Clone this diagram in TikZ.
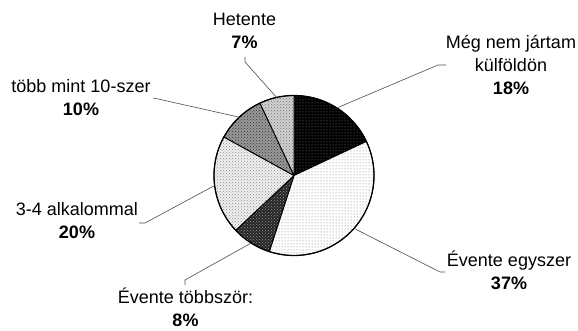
\documentclass[tikz,border=0pt]{standalone}
\usepackage{fontspec}
\setmainfont{Liberation Sans}
\usetikzlibrary{patterns}

\tikzset{
	slice/.style={draw=black, line width=0.9pt, line join=round},
	mnfill/.style={preaction={fill=black}, pattern=dots, pattern color=black!45},
	eefill/.style={preaction={fill=white}, pattern=dots, pattern color=black!55},
	etfill/.style={preaction={fill=black!85}, pattern=crosshatch dots, pattern color=black!40},
	akfill/.style={preaction={fill=black!6}, pattern=crosshatch dots, pattern color=black!45},
	tmfill/.style={preaction={fill=black!40}, pattern=crosshatch dots, pattern color=black!80},
	hefill/.style={preaction={fill=black!18}, pattern=crosshatch dots, pattern color=black!55},
	leader/.style={draw=black!70, line width=0.6pt},
	lbl/.style={align=center, anchor=base, inner sep=0pt, font=\fontsize{18}{23}\selectfont}
}

\begin{document}
\begin{tikzpicture}[x=1pt, y=1pt]
			%%%%% START %%%%%
			
			\useasboundingbox (0, 0) rectangle (578, 331);
			
			\coordinate (c) at (294, 155.5);
			
			\path[slice, mnfill] (c) -- ++(90:80) arc (90:25.2:80) -- cycle;
			\path[slice, eefill] (c) -- ++(25.2:80) arc (25.2:-108:80) -- cycle;
			\path[slice, etfill] (c) -- ++(-108:80) arc (-108:-136.8:80) -- cycle;
			\path[slice, akfill] (c) -- ++(-136.8:80) arc (-136.8:-208.8:80) -- cycle;
			\path[slice, tmfill] (c) -- ++(151.2:80) arc (151.2:115.2:80) -- cycle;
			\path[slice, hefill] (c) -- ++(115.2:80) arc (115.2:90:80) -- cycle;
			\draw[line width=1.2pt] (c) circle (80);
			
			\path (c) ++(57.6:80) coordinate (mnpt);
			\path (c) ++(-41.4:80) coordinate (eept);
			\path (c) ++(237.6:80) coordinate (etpt);
			\path (c) ++(187.2:80) coordinate (akpt);
			\path (c) ++(133.2:80) coordinate (tmpt);
			\path (c) ++(102.6:80) coordinate (hept);
			
			\node[lbl] (mnlbl) at (511, 236) {Még nem jártam\\külföldön\\\textbf{18\%}};
			\node[lbl] (eelbl) at (509, 41) {Évente egyszer\\\textbf{37\%}};
			\node[lbl] (etlbl) at (185.5, 4.5) {Évente többször:\\\textbf{8\%}};
			\node[lbl] (aklbl) at (77, 92) {3-4 alkalommal\\\textbf{20\%}};
			\node[lbl] (tmlbl) at (81, 215) {több mint 10-szer\\\textbf{10\%}};
			\node[lbl] (helbl) at (244.5, 282) {Hetente\\\textbf{7\%}};
			
			\coordinate (mnknee) at (438, 266);
			\coordinate (mnend) at (446, 266);
			\coordinate (eeknee) at (440, 59);
			\coordinate (eeend) at (445, 59);
			\coordinate (etknee) at (185, 51);
			\coordinate (etend) at (185, 46);
			\coordinate (akknee) at (145, 108);
			\coordinate (akend) at (139, 108);
			\coordinate (tmknee) at (158, 232);
			\coordinate (tmend) at (153, 233);
			\coordinate (heknee) at (245, 269);
			\coordinate (heend) at (245, 274);
			
			\draw[leader] (mnpt) -- (mnknee) -- (mnend);
			\draw[leader] (eept) -- (eeknee) -- (eeend);
			\draw[leader] (etpt) -- (etknee) -- (etend);
			\draw[leader] (akpt) -- (akknee) -- (akend);
			\draw[leader] (tmpt) -- (tmknee) -- (tmend);
			\draw[leader] (hept) -- (heknee) -- (heend);
			
			%%%%% END %%%%%
\end{tikzpicture}
\end{document}
